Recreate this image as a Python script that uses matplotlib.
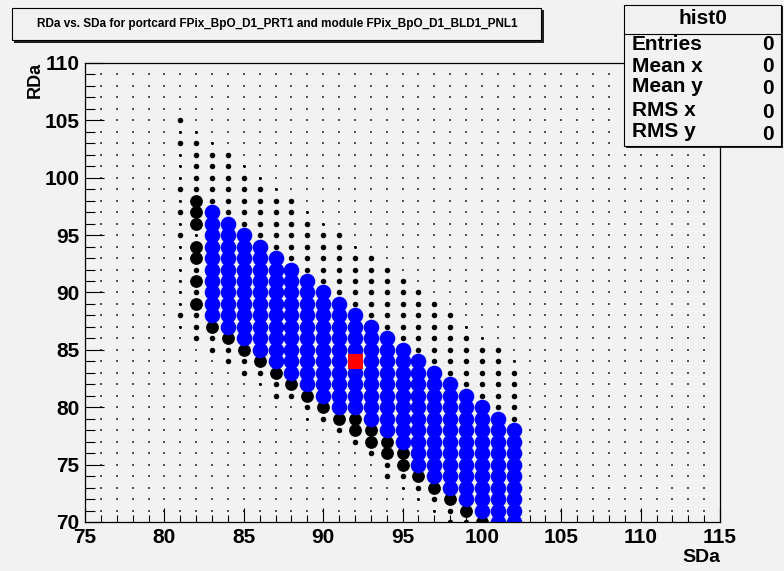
import numpy as np
import matplotlib.pyplot as plt
from matplotlib.patches import Rectangle
from matplotlib.lines import Line2D

# RDa vs SDa scan, one entry per SDa column.
# Codes run downward from the top RDa bin of the column:
#   s = few hits, m = more hits, L = many hits, B = in working range
scan_sda = [81, 82, 83, 84, 85, 86, 87, 88, 89, 90, 91,
            92, 93, 94, 95, 96, 97, 98, 99, 100, 101, 102]
scan_top = [105, 104, 103, 102, 101, 100, 99, 98, 97, 96, 95,
            94, 93, 92, 91, 90, 89, 88, 87, 86, 85, 84]
scan_codes = [
    "msmsssmsmsmssssssms",
    "smmmmmLLLsLLmLmLmmm",
    "smmmmmBBBBBBBBBBLmm",
    "mmmmmmBBBBBBBBBBLmm",
    "smmmmmBBBBBBBBBBLmm",
    "smmmmmBBBBBBBBBBLms",
    "smmmmmBBBBBBBBBBLmm",
    "mmmmmmBBBBBBBBBBLm",
    "smmmmmBBBBBBBBBBLms",
    "smmmmmBBBBBBBBBBLm",
    "mmmmmmBBBBBBBBBBLm",
    "smmmmmBBBBBBBBBLLm",
    "mmmmmmBBBBBBBBBLLm",
    "mmmmmmBBBBBBBBBLLmm",
    "mmmmmmBBBBBBBBBLLms",
    "mmmmmmBBBBBBBBBBLms",
    "mmmmmmBBBBBBBBBBLms",
    "mmmmmmBBBBBBBBBBLmm",
    "smmmmmBBBBBBBBBBLm",
    "smmmmmBBBBBBBBBBL",
    "mmmmmmBBBBBBBBBB",
    "smmmmmBBBBBBBBB",
]

# chosen setting
best_sda = 92
best_rda = 84

stat_names = ["Entries", "Mean x", "Mean y", "RMS x", "RMS y"]
stat_values = [0, 0, 0, 0, 0]

title = "RDa vs. SDa for portcard FPix_BpO_D1_PRT1 and module FPix_BpO_D1_BLD1_PNL1"

W, H = 784, 571
BG = "#f2f2f2"
PT = 0.72  # points per pixel at dpi 100
FAM = ["Liberation Sans", "DejaVu Sans"]


def fx(px):
    return px / W


def fy(py):
    return 1 - py / H


# marker diameter in pixels for each code
styles = {
    "s": dict(d=3.0, c="black"),
    "m": dict(d=5.5, c="black"),
    "L": dict(d=12.8, c="black"),
    "B": dict(d=15.6, c="#0000ff"),
}

pts = {k: ([], []) for k in styles}
for sda, top, codes in zip(scan_sda, scan_top, scan_codes):
    for i, c in enumerate(codes):
        pts[c][0].append(sda)
        pts[c][1].append(top - i)

fig = plt.figure(figsize=(W / 100, H / 100), dpi=100, facecolor=BG)
ax = fig.add_axes([fx(85), fy(522), (720 - 85) / W, (522 - 63) / H])
ax.set_facecolor(BG)

# empty bins show as tiny dots
gx, gy = np.meshgrid(np.arange(76, 115), np.arange(71, 110))
ax.scatter(gx.ravel(), gy.ravel(), s=(1.1 * PT) ** 2, marker="s",
           color="#555555", linewidths=0, zorder=1)

for k in ["s", "m", "L", "B"]:
    xs, ys = pts[k]
    ax.scatter(xs, ys, s=(styles[k]["d"] * PT) ** 2, marker="o",
               color=styles[k]["c"], linewidths=0, zorder=2)

ax.scatter([best_sda], [best_rda], s=(15 * PT) ** 2, marker="s",
           color="#ff0000", linewidths=0, zorder=3)

ax.set_xlim(75, 115)
ax.set_ylim(70, 110)
ax.set_xticks(np.arange(75, 116, 5))
ax.set_yticks(np.arange(70, 111, 5))
ax.set_xticks(np.arange(75, 116, 1), minor=True)
ax.set_yticks(np.arange(70, 111, 1), minor=True)

tick_font = dict(family=FAM, weight="bold", size=15)
ax.tick_params(axis="x", which="major", direction="in", length=13.8 * PT,
               width=0.8, pad=4, top=False)
ax.tick_params(axis="x", which="minor", direction="in", length=7 * PT,
               width=0.8, top=False)
ax.tick_params(axis="y", which="major", direction="in", length=19 * PT,
               width=0.8, pad=4, right=False)
ax.tick_params(axis="y", which="minor", direction="in", length=9.5 * PT,
               width=0.8, right=False)
for lab in ax.get_xticklabels() + ax.get_yticklabels():
    lab.set_fontfamily(FAM)
    lab.set_fontweight("bold")
    lab.set_fontsize(tick_font["size"])
for sp in ax.spines.values():
    sp.set_linewidth(0.9)

fig.text(fx(720), fy(557), "SDa", ha="right", va="center",
         family=FAM, weight="bold", size=14)
fig.text(fx(35), fy(62), "RDa", ha="center", va="top", rotation=90,
         family=FAM, weight="bold", size=13)

# title box with shadow
fig.add_artist(Rectangle((fx(14), fy(43)), fx(530), 33 / H, transform=fig.transFigure,
                         facecolor="#222222", edgecolor="none", zorder=5))
fig.add_artist(Rectangle((fx(12), fy(40)), fx(529), 32 / H, transform=fig.transFigure,
                         facecolor=BG, edgecolor="black", linewidth=0.8, zorder=6))
fig.text(fx(277), fy(24), title, ha="center", va="center", zorder=7,
         family=FAM, weight="bold", size=8.5)

# statistics box
fig.add_artist(Rectangle((fx(626), fy(148)), fx(157), 142 / H, transform=fig.transFigure,
                         facecolor="#222222", edgecolor="none", zorder=5))
fig.add_artist(Rectangle((fx(624), fy(146)), fx(157), 141 / H, transform=fig.transFigure,
                         facecolor=BG, edgecolor="black", linewidth=0.8, zorder=6))
fig.add_artist(Line2D([fx(624), fx(781)], [fy(34), fy(34)], transform=fig.transFigure,
                      color="black", linewidth=0.8, zorder=7))
fig.text(fx(703), fy(19), "hist0", ha="center", va="center", zorder=7, **tick_font)
label_y = [44, 67, 87, 111, 131]
value_y = [44, 67, 89, 112, 135]
for name, val, ly, vy in zip(stat_names, stat_values, label_y, value_y):
    fig.text(fx(632), fy(ly), name, ha="left", va="center", zorder=7, **tick_font)
    fig.text(fx(774), fy(vy), str(val), ha="right", va="center", zorder=7, **tick_font)

fig.savefig("out.png", dpi=100, facecolor=BG)
